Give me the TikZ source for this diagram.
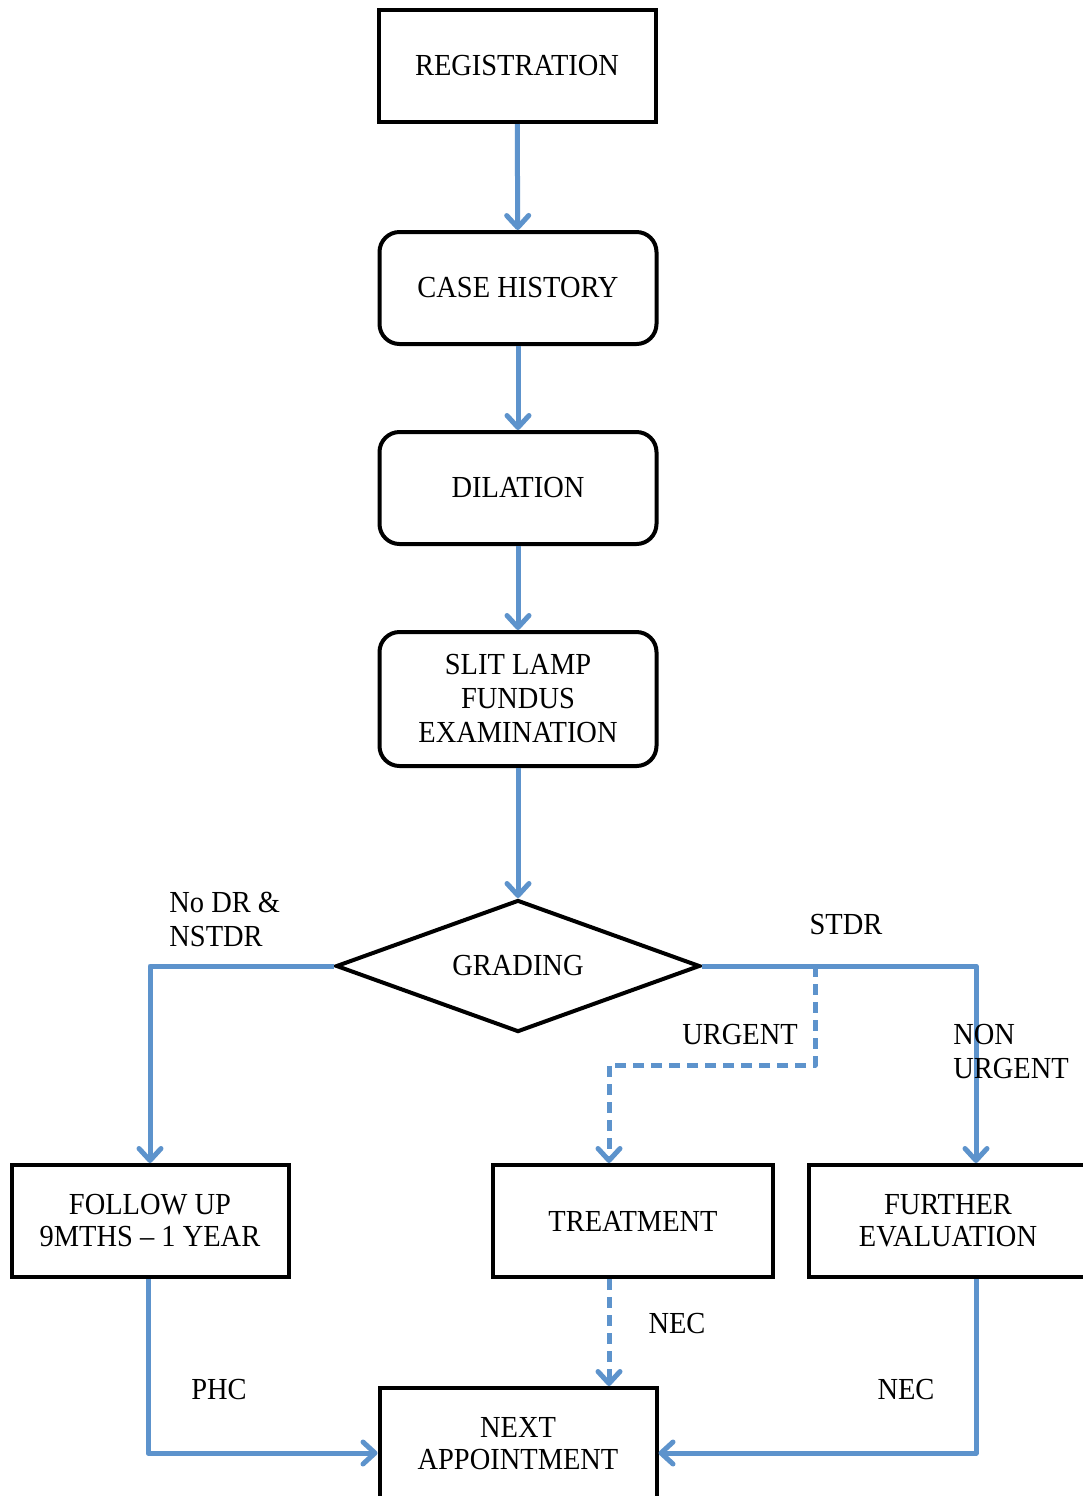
\documentclass[tikz,border=0pt]{standalone}
\usepackage{fontspec}
\setmainfont{Liberation Serif}[FakeStretch=0.93]
\usetikzlibrary{shapes.geometric,arrows.meta,calc}
\definecolor{flowblue}{HTML}{5D93CC}
\begin{document}
\begin{tikzpicture}[x=0.5pt,y=-0.5pt,
  every node/.style={font=\fontsize{15.3}{17}\selectfont, align=center},
  sqbox/.style={draw, line width=2pt, minimum width=138.5pt, minimum height=56pt, inner sep=0pt},
  rndbox/.style={sqbox, rounded corners=10pt},
  decision/.style={draw, line width=2pt, diamond, aspect=2.76, minimum width=182pt, minimum height=66pt, inner sep=0pt},
  flow/.style={draw=flowblue, line width=2.5pt, line join=round,
    -{Straight Barb[length=6pt,width=11pt,line cap=round,line join=round]}},
  dashflow/.style={flow, dash pattern=on 5.5pt off 3.5pt},
  lbl/.style={inner sep=0pt}
]
% page area
\fill[white] (0,0) rectangle (1083,1496);
\useasboundingbox (0,0) rectangle (1083,1496);
\clip (0,0) rectangle (1083,1496);

% boxes
\node[sqbox]  (reg)    at (517,66)   {REGISTRATION};
\node[rndbox] (case)   at (518,288)  {CASE HISTORY};
\node[rndbox] (dil)    at (518,488)  {DILATION};
\node[rndbox, minimum height=67pt] (slit) at (518,699) {SLIT LAMP\\FUNDUS\\EXAMINATION};
\node[decision] (grad) at (518,966)  {GRADING};
\node[sqbox, font=\fontsize{15.3}{16}\selectfont] (follow) at (150,1221) {FOLLOW UP\\9MTHS -- 1 YEAR};
\node[sqbox, minimum width=140pt] (treat) at (633,1221) {TREATMENT};
\node[sqbox, minimum width=139pt, font=\fontsize{15.3}{16}\selectfont] (further) at (948,1221) {FURTHER\\EVALUATION};
\node[sqbox, font=\fontsize{15.3}{16}\selectfont] (next) at (518,1444) {NEXT\\APPOINTMENT};

% junction points
\coordinate (nu) at (976,966);
\coordinate (ub) at (815,966);
\coordinate (uc) at (609,1065);
\coordinate (fl) at (148,1277);

% main sequence
\draw[flow] (reg) -- (case);
\draw[flow] (case) -- (dil);
\draw[flow] (dil) -- (slit);
\draw[flow] (slit) -- (grad);

% grading branches
\draw[flow] (grad.west) -| (follow.north);
\draw[flow] (grad.east) -- (nu) -- (nu |- further.north);
\draw[dashflow] (ub) |- (uc) -- (uc |- treat.north);

% to next appointment
\draw[dashflow] (uc |- treat.south) -- (uc |- next.north);
\draw[flow] (fl |- follow.south) |- ($(next.west)+(0,9)$);
\draw[flow] (nu |- further.south) |- ($(next.east)+(0,9)$);

% labels
\node[lbl, anchor=west, align=left] (l1) at (169,919) {No DR \&\\NSTDR};
\node[lbl] (l2) at (846,925) {STDR};
\node[lbl] (l3) at (740,1035) {URGENT};
\node[lbl, anchor=west, align=left] (l4) at (953,1052) {NON\\URGENT};
\node[lbl] (l5) at (677,1324) {NEC};
\node[lbl] (l6) at (219,1390) {PHC};
\node[lbl] (l7) at (906,1390) {NEC};
\end{tikzpicture}
\end{document}
